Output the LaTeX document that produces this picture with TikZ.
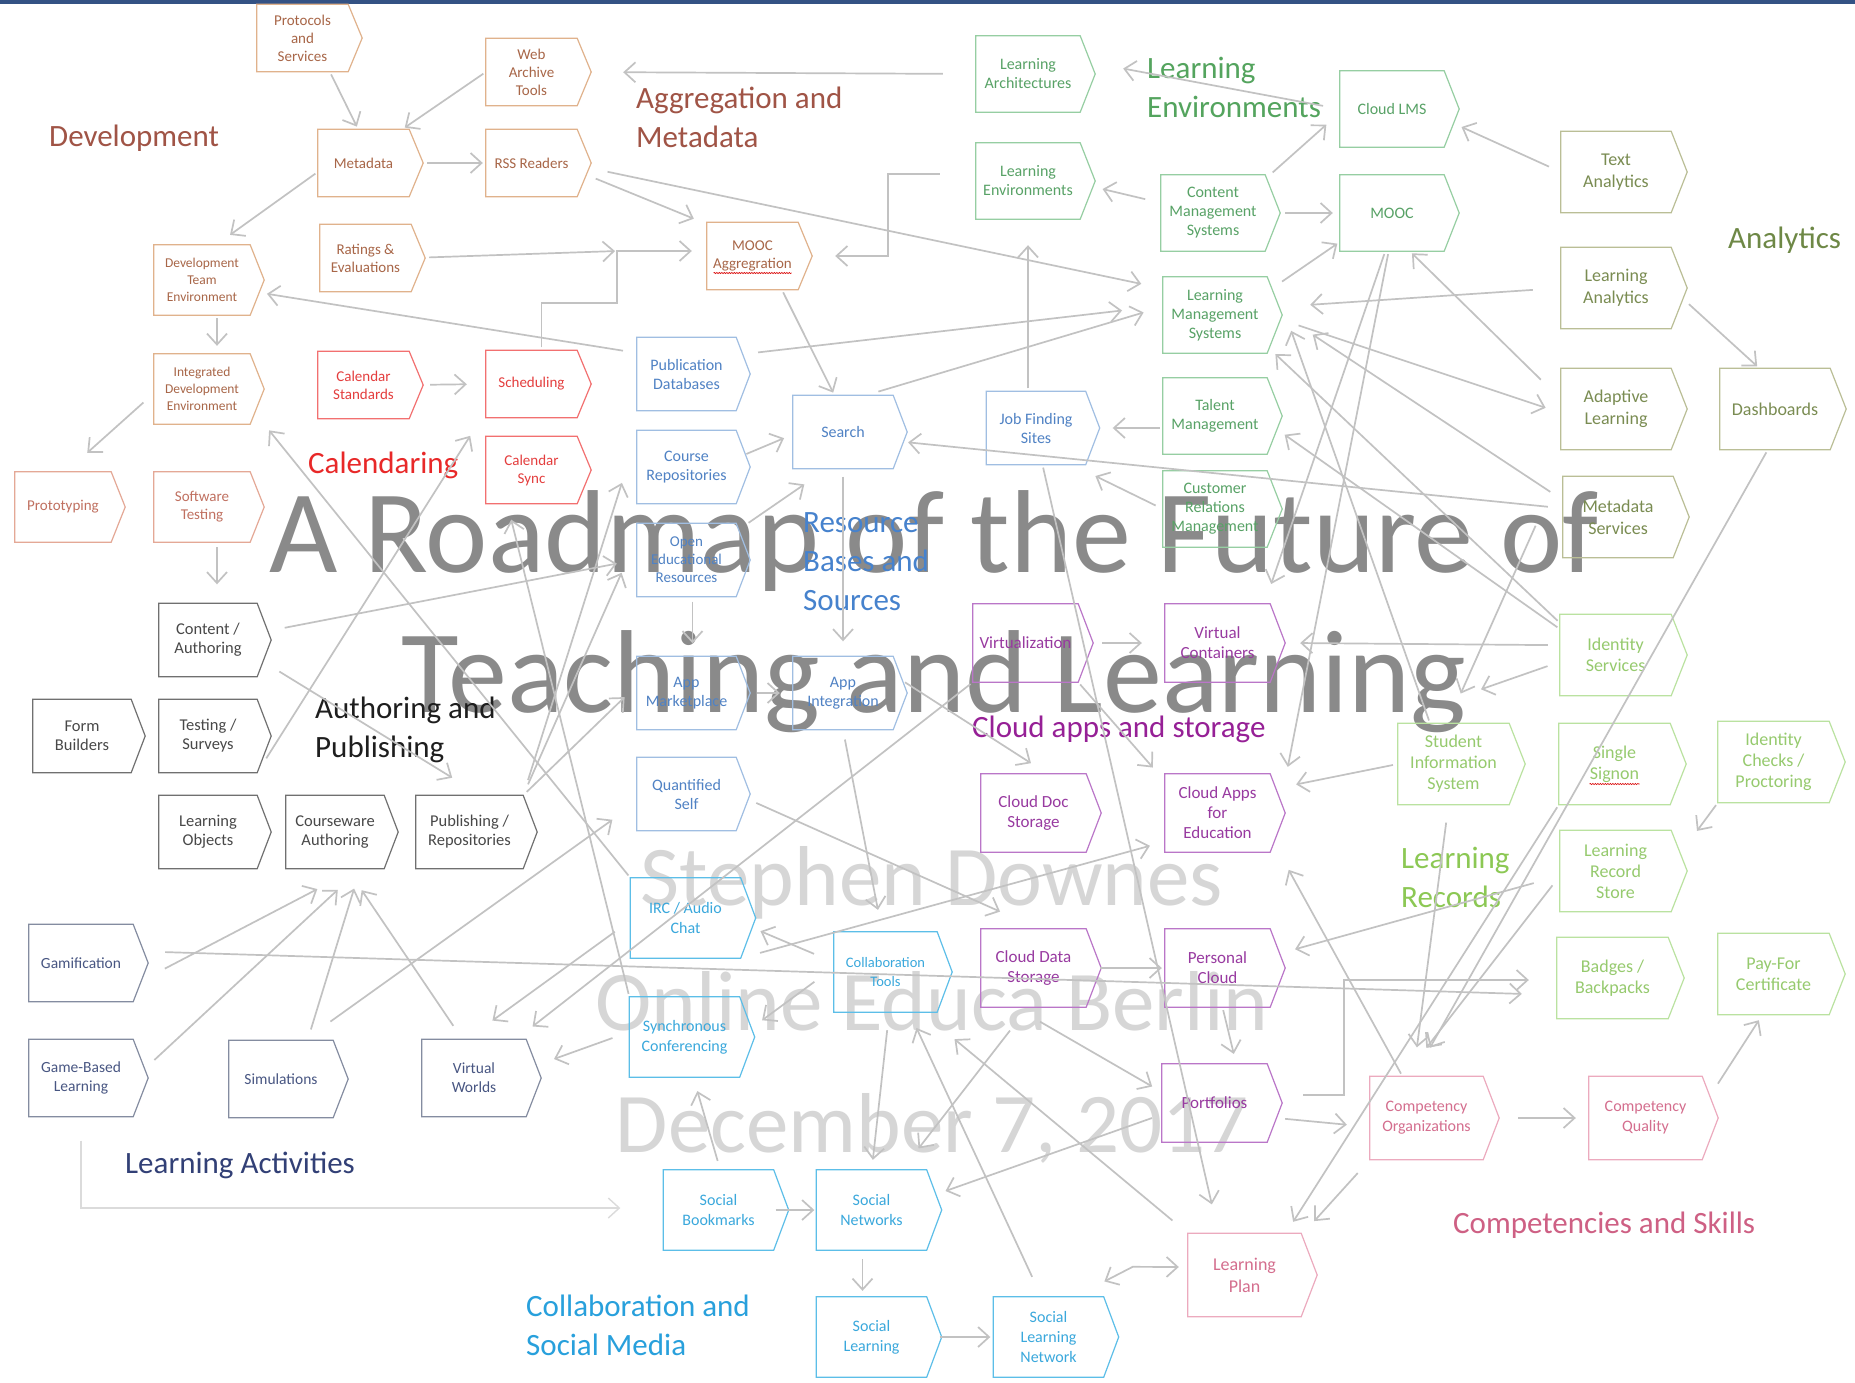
\documentclass[tikz,border=0pt]{standalone}
\usepackage{fontspec}
\setmainfont{Carlito}
\usetikzlibrary{arrows.meta,decorations.pathmorphing}

\definecolor{linegray}{RGB}{194,194,194}
\definecolor{markgray}{RGB}{138,138,138}
\definecolor{marklight}{RGB}{214,214,214}
\definecolor{topbar}{RGB}{52,82,132}
% border / text / heading colours of the groups
\definecolor{devline}{RGB}{224,178,140}
\definecolor{devtext}{RGB}{168,102,72}
\definecolor{devhead}{RGB}{160,84,70}
\definecolor{protoline}{RGB}{228,168,150}
\definecolor{prototext}{RGB}{192,112,96}
\definecolor{calline}{RGB}{242,112,112}
\definecolor{caltext}{RGB}{228,62,62}
\definecolor{calhead}{RGB}{232,40,40}
\definecolor{authline}{RGB}{112,112,112}
\definecolor{authtext}{RGB}{72,72,72}
\definecolor{authhead}{RGB}{30,30,30}
\definecolor{actline}{RGB}{132,140,160}
\definecolor{acttext}{RGB}{72,86,130}
\definecolor{acthead}{RGB}{50,64,118}
\definecolor{resline}{RGB}{160,190,226}
\definecolor{restext}{RGB}{80,130,196}
\definecolor{reshead}{RGB}{70,130,205}
\definecolor{colline}{RGB}{92,190,232}
\definecolor{coltext}{RGB}{58,168,220}
\definecolor{colhead}{RGB}{40,160,220}
\definecolor{envline}{RGB}{150,206,162}
\definecolor{envtext}{RGB}{88,162,102}
\definecolor{envhead}{RGB}{84,164,94}
\definecolor{analine}{RGB}{186,190,150}
\definecolor{anatext}{RGB}{122,140,82}
\definecolor{anahead}{RGB}{110,136,70}
\definecolor{recline}{RGB}{186,226,160}
\definecolor{rectext}{RGB}{150,202,110}
\definecolor{rechead}{RGB}{140,200,84}
\definecolor{cldline}{RGB}{186,118,200}
\definecolor{cldtext}{RGB}{152,58,160}
\definecolor{cldhead}{RGB}{150,32,150}
\definecolor{cmpline}{RGB}{236,170,190}
\definecolor{cmptext}{RGB}{212,110,142}
\definecolor{cmphead}{RGB}{206,96,132}

\tikzset{
  box/.style={rectangle, inner sep=0pt, align=center},
  devbox/.style={box, text=devtext, minimum width=91pt, minimum height=67pt, font=\fontsize{15}{18}\selectfont},
  protobox/.style={box, text=prototext, minimum width=96pt, minimum height=70pt, font=\fontsize{15}{18}\selectfont},
  calbox/.style={box, text=caltext, minimum width=91pt, minimum height=67pt, font=\fontsize{15}{18}\selectfont},
  authbox/.style={box, text=authtext, minimum width=98pt, minimum height=73pt, font=\fontsize{16.5}{19}\selectfont},
  actbox/.style={box, text=acttext, minimum width=104pt, minimum height=77pt, font=\fontsize{15.5}{19}\selectfont},
  resbox/.style={box, text=restext, minimum width=99pt, minimum height=73pt, font=\fontsize{16}{19}\selectfont},
  colbox/.style={box, text=coltext, minimum width=110pt, minimum height=80pt, font=\fontsize{16}{20}\selectfont},
  envbox/.style={box, text=envtext, minimum width=104pt, minimum height=76pt, font=\fontsize{16}{19}\selectfont},
  anabox/.style={box, text=anatext, minimum width=110pt, minimum height=81pt, font=\fontsize{18}{22}\selectfont},
  recbox/.style={box, text=rectext, minimum width=111pt, minimum height=81pt, font=\fontsize{18}{21}\selectfont},
  cldbox/.style={box, text=cldtext, minimum width=105pt, minimum height=78pt, font=\fontsize{17}{20}\selectfont},
  cmpbox/.style={box, text=cmptext, minimum width=113pt, minimum height=83pt, font=\fontsize{16}{20}\selectfont},
  outline/.style={line width=1.2pt, line join=miter},
  head/.style={anchor=west, inner sep=0pt, align=left, font=\fontsize{31}{39}\selectfont},
  wmark/.style={anchor=base, inner sep=0pt},
  link/.style={draw=linegray, line width=1.7pt, -{Straight Barb[length=11pt,width=20pt]},
    shorten <=3pt, shorten >=3pt},
  dlink/.style={link, {Straight Barb[length=11pt,width=20pt]}-{Straight Barb[length=11pt,width=20pt]}},
  bracket/.style={draw=black!14, line width=1.4pt},
  squiggle/.style={draw=red!85!black, line width=0.6pt, decorate,
    decoration={snake, amplitude=0.6pt, segment length=2.5pt}}
}

\begin{document}
\begin{tikzpicture}[x=1pt, y=-1pt]
  \useasboundingbox (0,0) rectangle (1855,1382);
  \fill[white] (0,0) rectangle (1855,1382);
  \fill[topbar] (0,0) rectangle (1855,4);

  % title in the background
  \node[wmark, text=markgray, font=\fontsize{118}{140}\selectfont] (title1) at (934,572) {A Roadmap of the Future of};
  \node[wmark, text=markgray, font=\fontsize{118}{140}\selectfont] (title2) at (934,712) {Teaching and Learning};
  \node[wmark, text=marklight, font=\fontsize{85}{100}\selectfont] (author) at (932,905) {Stephen Downes};
  \node[wmark, text=marklight, font=\fontsize{85}{100}\selectfont] (venue) at (932,1030) {Online Educa Berlin};
  \node[wmark, text=marklight, font=\fontsize{85}{100}\selectfont] (date) at (932,1152) {December 7, 2017};

  % group headings
  \node[head, text=devhead] (devhd) at (49,138) {Development};
  \node[head, text=devhead] (agghd) at (636,117) {Aggregation and\\Metadata};
  \node[head, text=envhead] (envhd) at (1147,87) {Learning\\Environments};
  \node[head, text=anahead] (anahd) at (1728,240) {Analytics};
  \node[head, text=calhead] (calhd) at (308,465) {Calendaring};
  \node[head, text=authhead] (authhd) at (315,730) {Authoring and\\Publishing};
  \node[head, text=reshead] (reshd) at (803,562) {Resource\\Bases and\\Sources};
  \node[head, text=cldhead] (cldhd) at (972,729) {Cloud apps and storage};
  \node[head, text=rechead] (rechd) at (1401,877) {Learning\\Records};
  \node[head, text=cmphead] (cmphd) at (1453,1225) {Competencies and Skills};
  \node[head, text=acthead] (acthd) at (125,1165) {Learning Activities};
  \node[head, text=colhead] (colhd) at (526,1325) {Collaboration and\\Social Media};

  % development, aggregation and metadata
  \node[devbox] (proto) at (302.5,38) {Protocols\\and\\Services};
  \node[devbox] (meta) at (363.5,163) {Metadata};
  \node[devbox] (rate) at (365.5,258) {Ratings \&\\Evaluations};
  \node[devbox] (webarch) at (531.5,72) {Web\\Archive\\Tools};
  \node[devbox] (rss) at (531.5,163) {RSS Readers};
  \node[devbox] (moocagg) at (752.5,256) {MOOC\\Aggregration};
  \node[devbox, minimum width=96pt, minimum height=70pt, font=\fontsize{13.5}{17}\selectfont] (devteam) at (202,280) {Development\\Team\\Environment};
  \node[devbox, minimum width=96pt, minimum height=70pt, font=\fontsize{13.5}{17}\selectfont] (ide) at (202,389) {Integrated\\Development\\Environment};
  \node[protobox] (protyp) at (63,507) {Prototyping};
  \node[protobox] (swtest) at (202,507) {Software\\Testing};
  \coordinate (aggjoin) at (617,251);

  % calendaring
  \node[calbox] (calstd) at (363.5,385) {Calendar\\Standards};
  \node[calbox] (sched) at (531.5,384) {Scheduling};
  \node[calbox] (calsync) at (531.5,470) {Calendar\\Sync};

  % authoring and publishing
  \node[authbox] (content) at (208,640) {Content /\\Authoring};
  \node[authbox] (form) at (82,736) {Form\\Builders};
  \node[authbox] (testsurv) at (208,736) {Testing /\\Surveys};
  \node[authbox] (lobj) at (208,832) {Learning\\Objects};
  \node[authbox] (course) at (335,832) {Courseware\\Authoring};
  \node[authbox, minimum width=107pt] (publish) at (469.5,832) {Publishing /\\Repositories};

  % learning activities
  \node[actbox] (gamif) at (81,963) {Gamification};
  \node[actbox] (gbl) at (81,1078) {Game-Based\\Learning};
  \node[actbox] (sim) at (281,1079) {Simulations};
  \node[actbox] (vworld) at (474,1078) {Virtual\\Worlds};

  % resource bases and sources
  \node[resbox] (pubdb) at (686.5,374) {Publication\\Databases};
  \node[resbox] (crepo) at (686.5,467) {Course\\Repositories};
  \node[resbox, font=\fontsize{15}{18}\selectfont] (oer) at (686.5,560) {Open\\Educational\\Resources};
  \node[resbox] (appmkt) at (686.5,693) {App\\Marketplace};
  \node[resbox] (qself) at (686.5,794) {Quantified\\Self};
  \node[resbox, minimum width=100pt] (search) at (843,432) {Search};
  \node[resbox, minimum width=100pt] (appint) at (843,693) {App\\Integration};
  \node[resbox] (jobs) at (1036,428) {Job Finding\\Sites};

  % collaboration and social media
  \node[colbox] (irc) at (685.5,918) {IRC / Audio\\Chat};
  \node[colbox] (sync) at (684.5,1037) {Synchronous\\Conferencing};
  \node[colbox, minimum width=103pt, font=\fontsize{14.5}{19}\selectfont] (collab) at (885.5,972) {Collaboration\\Tools};
  \node[colbox] (sbook) at (718.5,1210) {Social\\Bookmarks};
  \node[colbox] (snet) at (871.5,1210) {Social\\Networks};
  \node[colbox] (slearn) at (871.5,1337) {Social\\Learning};
  \node[colbox] (slnet) at (1048.5,1337) {Social\\Learning\\Network};

  % learning environments
  \node[envbox] (larch) at (1028,74) {Learning\\Architectures};
  \node[envbox] (lenv) at (1028,181) {Learning\\Environments};
  \node[envbox] (cms) at (1213,213) {Content\\Management\\Systems};
  \node[envbox] (lms) at (1215,315) {Learning\\Management\\Systems};
  \node[envbox] (talent) at (1215,416) {Talent\\Management};
  \node[envbox] (crm) at (1215,509) {Customer\\Relations\\Management};
  \node[envbox] (cloudlms) at (1392,109) {Cloud LMS};
  \node[envbox] (mooc) at (1392,213) {MOOC};

  % analytics
  \node[anabox] (textan) at (1616,172) {Text\\Analytics};
  \node[anabox] (learnan) at (1616,288) {Learning\\Analytics};
  \node[anabox] (adapt) at (1616,409) {Adaptive\\Learning};
  \node[anabox] (dash) at (1775,409) {Dashboards};
  \node[anabox] (metaserv) at (1618,517) {Metadata\\Services};

  % learning records
  \node[recbox] (idserv) at (1615.5,655) {Identity\\Services};
  \node[recbox] (sis) at (1453.5,764) {Student\\Information\\System};
  \node[recbox] (sso) at (1614.5,764) {Single\\Signon};
  \node[recbox] (idcheck) at (1773.5,762) {Identity\\Checks /\\Proctoring};
  \node[recbox] (lrs) at (1615.5,871) {Learning\\Record\\Store};
  \node[recbox] (badges) at (1612.5,978) {Badges /\\Backpacks};
  \node[recbox] (payfor) at (1773.5,974) {Pay-For\\Certificate};

  % cloud apps and storage
  \node[cldbox] (virt) at (1025.5,643) {Virtualization};
  \node[cldbox] (vcont) at (1217.5,643) {Virtual\\Containers};
  \node[cldbox] (clouddoc) at (1033.5,813) {Cloud Doc\\Storage};
  \node[cldbox] (cloudapps) at (1217.5,813) {Cloud Apps\\for\\Education};
  \node[cldbox] (clouddata) at (1033.5,968) {Cloud Data\\Storage};
  \node[cldbox] (pcloud) at (1217.5,968) {Personal\\Cloud};
  \node[cldbox] (portf) at (1214.5,1103) {Portfolios};

  % competencies and skills
  \node[cmpbox] (comporg) at (1426.5,1118) {Competency\\Organizations};
  \node[cmpbox] (compqual) at (1645.5,1118) {Competency\\Quality};
  \node[cmpbox, font=\fontsize{18}{22}\selectfont] (lplan) at (1244.5,1275) {Learning\\Plan};

  % pointed outlines of the boxes
  \foreach \n in {proto,meta,rate,webarch,rss,moocagg,devteam,ide}
    \draw[devline, outline] (\n.north west) -- (\n.north east) -- ([xshift=14pt]\n.east) -- (\n.south east) -- (\n.south west) -- cycle;
  \foreach \n in {protyp,swtest}
    \draw[protoline, outline] (\n.north west) -- (\n.north east) -- ([xshift=14pt]\n.east) -- (\n.south east) -- (\n.south west) -- cycle;
  \foreach \n in {calstd,sched,calsync}
    \draw[calline, outline] (\n.north west) -- (\n.north east) -- ([xshift=14pt]\n.east) -- (\n.south east) -- (\n.south west) -- cycle;
  \foreach \n in {content,form,testsurv,lobj,course,publish}
    \draw[authline, outline] (\n.north west) -- (\n.north east) -- ([xshift=14pt]\n.east) -- (\n.south east) -- (\n.south west) -- cycle;
  \foreach \n in {gamif,gbl,sim,vworld}
    \draw[actline, outline] (\n.north west) -- (\n.north east) -- ([xshift=15pt]\n.east) -- (\n.south east) -- (\n.south west) -- cycle;
  \foreach \n in {pubdb,crepo,oer,appmkt,qself,search,appint,jobs}
    \draw[resline, outline] (\n.north west) -- (\n.north east) -- ([xshift=14pt]\n.east) -- (\n.south east) -- (\n.south west) -- cycle;
  \foreach \n in {irc,sync,collab,sbook,snet,slearn,slnet}
    \draw[colline, outline] (\n.north west) -- (\n.north east) -- ([xshift=15pt]\n.east) -- (\n.south east) -- (\n.south west) -- cycle;
  \foreach \n in {larch,lenv,cms,lms,talent,crm,cloudlms,mooc}
    \draw[envline, outline] (\n.north west) -- (\n.north east) -- ([xshift=15pt]\n.east) -- (\n.south east) -- (\n.south west) -- cycle;
  \foreach \n in {textan,learnan,adapt,dash,metaserv}
    \draw[analine, outline] (\n.north west) -- (\n.north east) -- ([xshift=16pt]\n.east) -- (\n.south east) -- (\n.south west) -- cycle;
  \foreach \n in {idserv,sis,sso,idcheck,lrs,badges,payfor}
    \draw[recline, outline] (\n.north west) -- (\n.north east) -- ([xshift=16pt]\n.east) -- (\n.south east) -- (\n.south west) -- cycle;
  \foreach \n in {virt,vcont,clouddoc,cloudapps,clouddata,pcloud,portf}
    \draw[cldline, outline] (\n.north west) -- (\n.north east) -- ([xshift=15pt]\n.east) -- (\n.south east) -- (\n.south west) -- cycle;
  \foreach \n in {comporg,compqual,lplan}
    \draw[cmpline, outline] (\n.north west) -- (\n.north east) -- ([xshift=16pt]\n.east) -- (\n.south east) -- (\n.south west) -- cycle;

  % spell-check marks
  \draw[squiggle] ([xshift=-39pt,yshift=-17pt]moocagg.center) -- ++(78,0);
  \draw[squiggle] ([xshift=-25pt,yshift=-20pt]sso.center) -- ++(50,0);

  % development and aggregation links
  \draw[link] (proto.-51) -- (meta.99);
  \draw[link] (webarch.west) -- (meta.41);
  \draw[link, shorten <=18pt] (meta.east) -- (rss.west);
  \draw[link, shorten >=17pt] (meta.191) -- (devteam.68);
  \draw[link, shorten >=8pt] ([xshift=15pt]devteam.south) -- ([xshift=15pt]ide.north);
  \draw[link, shorten <=14pt] (ide.185) -- ([xshift=22pt,yshift=17pt]protyp.north);
  \draw[link, shorten <=5pt] ([xshift=15pt]swtest.south) -- ([xshift=9pt,yshift=16pt]content.north);
  \draw[link, shorten <=33pt, shorten >=46pt] (larch.west) -- (webarch.east);
  \draw[link, shorten <=20pt, shorten >=14pt] (rss.-10) -- (moocagg.145);
  \draw[link, shorten <=31pt, shorten >=22pt] (rss.-3) -- (lms.153);
  \draw[link, shorten <=18pt, shorten >=2pt] (rate.east) -- (aggjoin);
  \draw[link, shorten >=15pt] ([xshift=10pt]sched.north) -- ++(0,-47) -| (aggjoin) -- (moocagg.west |- aggjoin);
  \draw[link, shorten >=37pt] ([xshift=-33pt,yshift=7pt]lenv.west) -- ++(-55,0) |- (moocagg.east);
  \draw[link] (moocagg.-49) -- (search.103);
  \draw[link, shorten <=14pt, shorten >=17pt] (pubdb.157) -- (devteam.-13);
  \draw[link, shorten <=22pt, shorten >=41pt] (pubdb.21) -- (lms.170);
  \draw[link, shorten <=13pt, shorten >=20pt] (search.58) -- (lms.171);

  % learning environments links
  \draw[link, shorten >=26pt] (jobs.north -| lenv.south) -- (lenv.south);
  \draw[link, shorten >=27pt] (talent.west |- jobs) -- (jobs.east);
  \draw[link, shorten <=16pt, shorten >=23pt] (cms.169) -- (lenv.-3);
  \draw[link, shorten <=10pt, shorten >=18pt] (cms.33) -- (cloudlms.184);
  \draw[link, shorten <=20pt, shorten >=7pt] (cms.east) -- (mooc.west);
  \draw[link, shorten <=18pt] (lms.24) -- (mooc.209);
  \draw[link, shorten <=17pt] (cloudlms.west) -- ([xshift=40pt,yshift=6pt]larch.east);
  \draw[link, shorten <=8pt] (crm.west) -- ([xshift=7pt,yshift=-10pt]jobs.south east);

  % analytics links
  \draw[link, shorten <=13pt, shorten >=19pt] (textan.west) -- (cloudlms.-11);
  \draw[link, shorten <=28pt] (learnan.west) -- ([xshift=40pt,yshift=10pt]lms.east);
  \draw[link, shorten <=24pt] (learnan.east) -- (dash.111);
  \draw[link, shorten <=28pt] (adapt.170) -- (mooc.-65);
  \draw[link, shorten <=33pt, shorten >=16pt] (lms.east) -- (adapt.184);
  \draw[link, shorten <=15pt, shorten >=15pt] (metaserv.171) -- (search.-10);
  \draw[link, shorten <=15pt] (metaserv.163) -- ([xshift=43pt,yshift=-18pt]lms.east);
  \draw[link] ([xshift=-26pt,yshift=-6pt]metaserv.west) -- ([xshift=6pt,yshift=27pt]sis.north);
  \draw[link] (dash.-100) -- ([xshift=2pt,yshift=26pt]comporg.north);

  % learning records links
  \draw[link] (idserv.150) -- ([xshift=6pt,yshift=-37pt]lms.east);
  \draw[link] (idserv.155) -- ([xshift=15pt,yshift=-17pt]talent.east);
  \draw[link, shorten <=12pt] (idserv.170) -- ([xshift=27pt]vcont.east);
  \draw[link, shorten <=13pt] (idserv.187) -- ([xshift=-31pt,yshift=33pt]sis.north east);
  \draw[link] (sis.120) -- ([xshift=23pt,yshift=-13pt]lms.east);
  \draw[link, shorten <=5pt] (sis.west) -- ([xshift=23pt,yshift=28pt]cloudapps.east);
  \draw[link, shorten <=18pt] (sis.-97) -- ([xshift=-10pt,yshift=26pt]comporg.north);
  \draw[link, shorten <=12pt] (lrs.185) -- ([xshift=-2pt,yshift=26pt]comporg.north);
  \draw[link, shorten <=27pt] (lrs.185) -- ([xshift=22pt,yshift=18pt]pcloud.east);
  \draw[link] (sso.south west) -- ([xshift=47pt,yshift=9pt]lplan.north);
  \draw[link] (idcheck.south west) -- ([xshift=24pt,yshift=-3pt]lrs.north east);

  % cloud links
  \draw[link] (mooc.-100) -- ([yshift=17pt]vcont.north east);
  \draw[link] (mooc.-95) -- ([xshift=17pt,yshift=4pt]cloudapps.north east);
  \draw[link, shorten <=24pt, shorten >=23pt] (virt.east) -- (vcont.west);
  \draw[link] (virt.south east) -- ([xshift=-10pt,yshift=4pt]cloudapps.north west);
  \draw[link] (virt.south west) -- ([xshift=4pt,yshift=11pt]vworld.north east);
  \draw[link, shorten <=14pt] (clouddata.east) -- (pcloud.west);
  \draw[link] ([xshift=5pt]pcloud.south) -- ([xshift=20pt,yshift=7pt]portf.north);
  \draw[link] ([xshift=4pt,yshift=-13pt]clouddata.south) -- ([xshift=-7pt,yshift=15pt]portf.west);
  \draw[link] ([xshift=31pt,yshift=-21pt]clouddata.south west) -- ([xshift=-10pt,yshift=19pt]snet.north east);
  \draw[link] ([xshift=-7pt,yshift=-14pt]portf.west) -- ([xshift=16pt,yshift=18pt]snet.east);
  \draw[link, shorten <=18pt] (portf.-15) -- ([xshift=-20pt,yshift=-7pt]comporg.west);
  \draw[link] ([xshift=33pt,yshift=8pt]portf.east) -- ++(44,0) |- ([xshift=-25pt,yshift=-2pt]badges.west);

  % competency links
  \draw[link, shorten <=35pt, shorten >=13pt] (comporg.east) -- (compqual.west);
  \draw[link, shorten <=29pt] (compqual.10) -- ([xshift=-13pt,yshift=-3pt]payfor.south);
  \draw[link, shorten <=18pt] (comporg.south west) -- ([xshift=11pt,yshift=10pt]lplan.north east);
  \draw[link] (comporg.120) -- ([xshift=17pt,yshift=-15pt]cloudapps.south east);
  \draw[link] (jobs.-80) -- ([xshift=-32pt,yshift=26pt]lplan.north);
  \draw[link, shorten <=20pt] (lplan.north west) -- ([xshift=15pt,yshift=-25pt]collab.south east);
  \draw[dlink] ([xshift=-2pt,yshift=14pt]slnet.north east) -- ++(31,-16) -- ([xshift=-6pt,yshift=8pt]lplan.west);

  % resource links
  \draw[link, shorten <=11pt] (crepo.10) -- ([xshift=-6pt,yshift=-5pt]search.west);
  \draw[link, shorten <=15pt] (oer.30) -- ([xshift=14pt,yshift=-14pt]search.south west);
  \draw[link, shorten <=8pt, shorten >=15pt] (search.south) -- (appint.north);
  \draw[link, shorten <=5pt, shorten >=13pt] ([xshift=6pt]oer.south) -- ([xshift=6pt]appmkt.north);
  \draw[link, shorten <=21pt, shorten >=13pt] (appmkt.east) -- (appint.west);
  \draw[link, shorten <=14pt] (appint.20) -- ([yshift=9pt]clouddoc.north);
  \draw[link, shorten <=10pt] (appint.south) -- ([xshift=-7pt,yshift=19pt]collab.north);
  \draw[link, shorten <=22pt] (qself.east) -- ([xshift=22pt,yshift=16pt]clouddata.north west);

  % authoring and calendar links
  \draw[link, shorten <=28pt] (content.8) -- ([xshift=-17pt,yshift=-3pt]oer.west);
  \draw[link, shorten <=26pt] (content.-20) -- ([xshift=39pt,yshift=16pt]publish.north west);
  \draw[link, shorten <=16pt] (publish.north east) -- ([xshift=-14pt,yshift=-13pt]crepo.west);
  \draw[link, shorten <=12pt] (publish.north east) -- ([xshift=-14pt,yshift=-10pt]oer.west);
  \draw[link, shorten <=5pt] (publish.north east) -- ([xshift=-10pt,yshift=-2pt]appmkt.west);
  \draw[link, shorten <=17pt] (testsurv.south east) -- ([xshift=-14pt,yshift=3pt]calsync.north west);
  \draw[link, shorten <=21pt, shorten >=19pt] (calstd.east) -- (sched.west);

  % collaboration links
  \draw[link] (irc.north west) -- ([xshift=17pt,yshift=-39pt]ide.east);
  \draw[link] (sync.north west) -- ([xshift=-21pt,yshift=-13pt]calsync.south);
  \draw[link] ([xshift=-13pt,yshift=-12pt]irc.west) -- ([xshift=16pt,yshift=17pt]vworld.north);
  \draw[link] ([xshift=-14pt]sync.west) -- ([xshift=25pt,yshift=18pt]vworld.east);
  \draw[link] ([xshift=-17pt,yshift=17pt]collab.west) -- ([xshift=17pt,yshift=-12pt]irc.east);
  \draw[link] ([xshift=-17pt,yshift=-8pt]collab.west) -- ([xshift=20pt,yshift=15pt]sync.east);
  \draw[link] ([xshift=2pt,yshift=-15pt]collab.south) -- ([xshift=1pt,yshift=7pt]snet.north);
  \draw[link] ([yshift=6pt]sbook.north) -- ([xshift=12pt,yshift=-11pt]sync.south);
  \draw[link, shorten <=2pt, shorten >=2pt] (sbook.east) -- (snet.west);
  \draw[link, shorten <=9pt, shorten >=6pt] ([xshift=-9pt]snet.south) -- ([xshift=-9pt]slearn.north);
  \draw[link, shorten <=13pt] (slearn.east) -- (slnet.west);
  \draw[link, shorten <=22pt] (slnet.100) -- ([xshift=-22pt,yshift=-13pt]collab.south east);
  \draw[link, shorten <=20pt] (irc.south east) -- ([xshift=-12pt,yshift=-32pt]cloudapps.west);

  % learning activity links
  \draw[link] ([xshift=29pt,yshift=-7pt]gamif.east) -- ([xshift=-15pt,yshift=-19pt]course.south);
  \draw[link] ([xshift=19pt,yshift=16pt]gbl.east) -- ([xshift=5pt,yshift=-19pt]course.south);
  \draw[link] ([xshift=29pt,yshift=8pt]sim.north) -- ([xshift=20pt,yshift=-17pt]course.south);
  \draw[link] ([xshift=-19pt,yshift=11pt]vworld.north) -- ([xshift=25pt,yshift=-19pt]course.south);
  \draw[link] ([xshift=47pt,yshift=17pt]sim.north) -- ([xshift=-22pt,yshift=-24pt]qself.west);
  \draw[link] ([xshift=29pt,yshift=11pt]gamif.east) -- ([xshift=-32pt,yshift=-16pt]badges.west);
  \draw[link, bracket] ([yshift=-21pt]gbl.south) |- ([xshift=-40pt,yshift=2pt]sbook.west);
\end{tikzpicture}
\end{document}
